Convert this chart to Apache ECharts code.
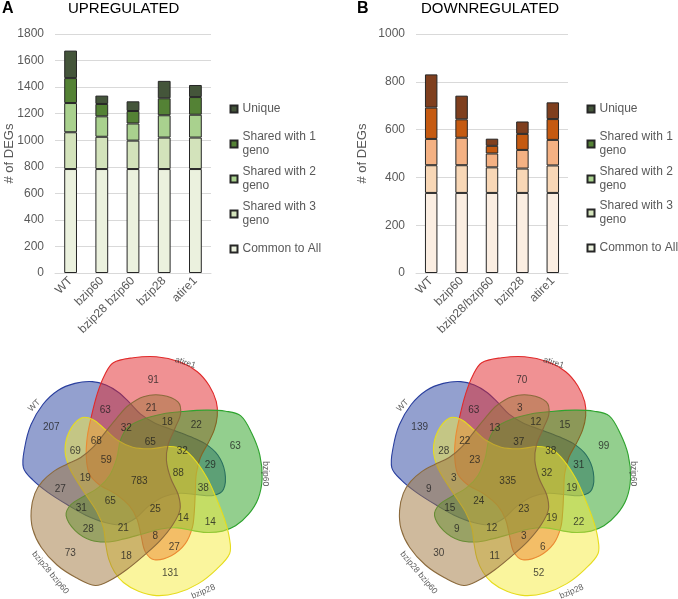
<!DOCTYPE html>
<html>
<head>
<meta charset="utf-8">
<script src="https://cdn.jsdelivr.net/npm/echarts@6/dist/echarts.min.js"></script>
<style>
  html, body { margin: 0; padding: 0; background: #fff; }
  #main { width: 678px; height: 599px; }
</style>
</head>
<body>
<div id="main"></div>
<script>
// ---- bar chart data ----
const catsUp = ['WT', 'bzip60', 'bzip28 bzip60', 'bzip28', 'atire1'];
const catsDown = ['WT', 'bzip60', 'bzip28/bzip60', 'bzip28', 'atire1'];
const groupNames = ['Common to All', 'Shared with 3 geno', 'Shared with 2 geno', 'Shared with 1 geno', 'Unique'];

const upCommon  = [783, 783, 783, 783, 783];
const upShared3 = [277, 243, 214, 237, 237];
const upShared2 = [220, 154, 129, 168, 172];
const upShared1 = [188, 93, 94, 128, 133];
const upUnique  = [207, 63, 73, 131, 91];

const downCommon  = [335, 335, 335, 335, 335];
const downShared3 = [116, 116, 107, 102, 115];
const downShared2 = [110, 115, 58, 78, 107];
const downShared1 = [131, 77, 32, 67, 87];
const downUnique  = [139, 99, 30, 52, 70];

const upAxis = { max: 1800, step: 200 };
const downAxis = { max: 1000, step: 200 };

// ---- venn data (same region order in both diagrams) ----
const vennSets = ['WT', 'atire1', 'bzip60', 'bzip28', 'bzip28 bzip60'];
const vennUp = [207, 91, 63, 131, 73, 63, 22, 14, 18, 27, 27, 28, 69, 21, 29, 8,
  31, 68, 18, 38, 32, 32, 14, 21, 19, 59, 65, 88, 25, 65, 783];
const vennDown = [139, 70, 99, 52, 30, 63, 15, 22, 11, 9, 6, 9, 28, 3, 31, 3,
  15, 22, 12, 19, 13, 38, 19, 12, 3, 23, 37, 32, 23, 24, 335];

// ---- venn layout: label positions in pixels from the central count ----
const regionPos = [
  [-88, -54], [14, -101], [96, -35], [31, 92], [-69, 72],
  [-34, -71], [57, -56], [71, 41], [-13, 75], [-79, 8],
  [35, 66], [-51, 48], [-64, -30], [12, -73], [71, -16],
  [16, 55], [-58, 27], [-43, -40], [28, -59], [64, 7],
  [-13, -53], [43, -30], [44, 37], [-16, 47], [-54, -3],
  [-33, -21], [11, -39], [39, -8], [16, 28], [-29, 20], [0, 0]
];
const setLabelPos = [[-105, -76], [46, -119], [126, -8], [64, 110], [-89, 91]];
const setLabelRot = [45, -18, -90, 23, -50];
// centre of rotation relative to the central count
const pivot = [1.2, -4.7];
// outline of one set (atire1, pointing up), relative to the central count;
// the other sets are the same outline turned by 72 deg steps about the pivot
const blob = [
  [-26, -119], [-6, -124], [17, -125], [40, -120], [58, -110], [70, -96], [77, -80],
  [78, -66], [75, -52], [69, -39], [61, -24], [57, -8], [56, 10], [55, 30], [53, 46],
  [46, 62], [32, 74], [15, 78], [6, 70], [2, 55], [-2, 38], [-10, 24], [-24, 12],
  [-40, 3], [-50, -8], [-53, -25], [-52, -45], [-48, -65], [-42, -88], [-35, -106]
];
const vennFill = ['rgba(40,65,160,0.5)', 'rgba(225,35,40,0.5)', 'rgba(40,160,30,0.5)',
  'rgba(245,235,60,0.5)', 'rgba(160,118,60,0.5)'];
const vennStroke = ['#2a3f9e', '#e02a2a', '#2ea32e', '#e6dc1e', '#8b6a3c'];

const greens = ['#ebf1de', '#d3e3bb', '#a9d18e', '#548235', '#44553a'];
const oranges = ['#fbeee2', '#f8d7b6', '#f4b183', '#c55a11', '#7f3f1e'];

const font = 'Liberation Sans, Arial, sans-serif';
const grey = '#595959';

function barSeries(values, colors, axisIdx) {
  return values.map((vals, i) => ({
    name: groupNames[i],
    type: 'bar',
    stack: 's' + axisIdx,
    xAxisIndex: axisIdx,
    yAxisIndex: axisIdx,
    barWidth: '41%',
    data: vals,
    itemStyle: { color: colors[i], borderColor: '#262626', borderWidth: 1 }
  }));
}

function legends(left, centers) {
  // top to bottom: Unique ... Common to All
  return groupNames.slice().reverse().map((name, i) => {
    const twoLine = name.indexOf(' geno') > 0;
    return {
      data: [name],
      left: left,
      top: centers[i] - (twoLine ? 21 : 7),
      padding: 0,
      orient: 'vertical',
      icon: 'rect',
      itemWidth: 7,
      itemHeight: 7,
      selectedMode: false,
      formatter: n => n.replace(' geno', '\ngeno'),
      textStyle: {
        fontFamily: font, fontSize: 12, color: grey, lineHeight: 14,
        padding: twoLine ? [14, 0, 0, 0] : 0
      }
    };
  });
}

function catAxis(cats, gi) {
  return {
    type: 'category', gridIndex: gi, data: cats,
    axisLine: { lineStyle: { color: '#d9d9d9' } },
    axisTick: { show: false },
    axisLabel: { rotate: 45, interval: 0, margin: 6, fontFamily: font, fontSize: 12, color: grey }
  };
}

function valAxis(ax, gi, gap) {
  return {
    type: 'value', gridIndex: gi, min: 0, max: ax.max, interval: ax.step,
    name: '# of DEGs', nameLocation: 'middle', nameGap: gap, nameMoveOverlap: false,
    nameTextStyle: { fontFamily: font, fontSize: 13, color: grey },
    axisLine: { show: false }, axisTick: { show: false },
    splitLine: { lineStyle: { color: '#d9d9d9' } },
    axisLabel: { margin: 11, fontFamily: font, fontSize: 12, color: grey, formatter: v => String(v) }
  };
}

function hiddenAxis(gi, min, max, inverse) {
  return { type: 'value', gridIndex: gi, min: min, max: max, inverse: inverse, show: false,
    splitLine: { show: false } };
}

function renderBlob(params, api) {
  const k = api.value(0);
  const a = (k - 1) * 72 * Math.PI / 180;
  const c = Math.cos(a), s = Math.sin(a);
  const pts = blob.map(p => {
    const x = p[0] - pivot[0], y = p[1] - pivot[1];
    return api.coord([pivot[0] + x * c - y * s, pivot[1] + x * s + y * c]);
  });
  return {
    type: 'polygon',
    shape: { points: pts, smooth: 0.35 },
    style: { fill: vennFill[k], stroke: vennStroke[k], lineWidth: 1.1 }
  };
}

function vennSeries(counts, axisIdx) {
  return [
    {
      type: 'custom', xAxisIndex: axisIdx, yAxisIndex: axisIdx,
      renderItem: renderBlob, silent: true,
      data: vennSets.map((n, i) => [i, 0])
    },
    {
      type: 'scatter', xAxisIndex: axisIdx, yAxisIndex: axisIdx,
      symbolSize: 1, itemStyle: { color: 'transparent' }, silent: true,
      data: regionPos.map((p, i) => [p[0], p[1], counts[i]]),
      label: { show: true, position: 'inside', formatter: p => p.value[2],
        fontFamily: font, fontSize: 10, color: '#1e1e1e' }
    },
    {
      type: 'scatter', xAxisIndex: axisIdx, yAxisIndex: axisIdx,
      symbolSize: 1, itemStyle: { color: 'transparent' }, silent: true,
      data: setLabelPos.map((p, i) => ({
        value: [p[0], p[1]], name: vennSets[i],
        label: { rotate: setLabelRot[i] }
      })),
      label: { show: true, position: 'inside', formatter: p => p.name,
        fontFamily: font, fontSize: 8.5, color: '#333' }
    }
  ];
}

const chart = echarts.init(document.getElementById('main'));
const option = {
  animation: false,
  backgroundColor: '#fff',
  title: [
    { text: 'A', left: 2, top: 1, padding: 0, textStyle: { fontFamily: font, fontSize: 16, fontWeight: 'bold', color: '#000' } },
    { text: 'UPREGULATED', left: 68, top: 1, padding: 0, textStyle: { fontFamily: font, fontSize: 15, fontWeight: 'normal', color: '#000' } },
    { text: 'B', left: 357, top: 1, padding: 0, textStyle: { fontFamily: font, fontSize: 16, fontWeight: 'bold', color: '#000' } },
    { text: 'DOWNREGULATED', left: 421, top: 1, padding: 0, textStyle: { fontFamily: font, fontSize: 15, fontWeight: 'normal', color: '#000' } }
  ],
  legend: legends(229.5, [109, 144, 179, 214, 249]).concat(legends(586.5, [109, 144, 179, 213, 248])),
  grid: [
    { left: 55, top: 34, width: 156, height: 239 },
    { left: 416, top: 34, width: 152, height: 239 },
    { left: 0, top: 330, width: 300, height: 269 },
    { left: 368, top: 330, width: 300, height: 269 }
  ],
  xAxis: [
    catAxis(catsUp, 0),
    catAxis(catsDown, 1),
    hiddenAxis(2, -139.3, 160.7, false),
    hiddenAxis(3, -139.7, 160.3, false)
  ],
  yAxis: [
    valAxis(upAxis, 0, 39),
    valAxis(downAxis, 1, 47),
    hiddenAxis(2, -151.7, 117.3, true),
    hiddenAxis(3, -151.7, 117.3, true)
  ],
  series: []
    .concat(barSeries([upCommon, upShared3, upShared2, upShared1, upUnique], greens, 0))
    .concat(barSeries([downCommon, downShared3, downShared2, downShared1, downUnique], oranges, 1))
    .concat(vennSeries(vennUp, 2))
    .concat(vennSeries(vennDown, 3))
};
chart.setOption(option);
</script>
</body>
</html>
